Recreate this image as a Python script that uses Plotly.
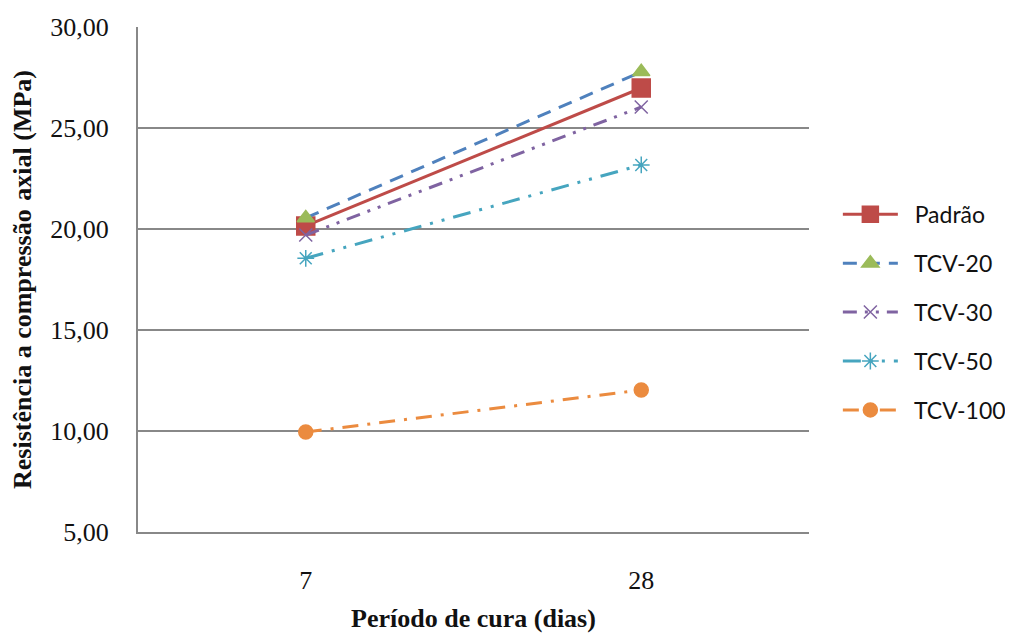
import plotly.graph_objects as go

categories = ["7", "28"]
padrao = [20.15, 26.98]
tcv20 = [20.55, 27.78]
tcv30 = [19.70, 26.04]
tcv50 = [18.55, 23.17]
tcv100 = [9.95, 12.03]

series = [
    ("Padrão", padrao, "#BE4B48", "#BE4B48", "square", 18, "solid", 3),
    ("TCV-20", tcv20, "#4F81BD", "#9BBB59", "triangle-up", 15, "14px,9px", 3),
    ("TCV-30", tcv30, "#7F63A1", "#7F63A1", "x-thin-open", 13, "14px,8px,3px,8px,3px,8px", 3),
    ("TCV-50", tcv50, "#46A5BF", "#46A5BF", "asterisk-open", 14, "18px,9px,3px,9px,3px,9px", 3),
    ("TCV-100", tcv100, "#EB8B3F", "#EB8B3F", "circle", 14, "16px,9px,3px,9px", 3),
]

fig = go.Figure()
for name, vals, lc, mc, sym, ms, dash, lw in series:
    fig.add_trace(go.Scatter(
        x=categories, y=vals, name="\u00a0\u00a0" + name, mode="lines+markers",
        legendgroup=name,
        line=dict(color=lc, width=lw, dash=dash),
        marker=dict(symbol=sym, size=ms, color=mc, line=dict(color=mc, width=1.5)),
    ))

serif = "Liberation Serif"
fig.update_layout(
    width=1005, height=625,
    margin=dict(l=130, r=204, t=19, b=101, autoexpand=False),
    paper_bgcolor="white", plot_bgcolor="white",
    separators=",.",
    showlegend=True,
    legend=dict(
        x=1.043, y=0.435, xanchor="left", yanchor="middle",
        font=dict(family="Lato", size=23, color="#111"),
        itemwidth=55, tracegroupgap=16,
    ),
    xaxis=dict(
        type="category", range=[-0.5, 1.5],
        showline=True, linecolor="#888", linewidth=2,
        showgrid=False, ticks="outside", ticklen=24, tickcolor="rgba(0,0,0,0)",
        tickfont=dict(family=serif, size=26, color="#111"),
        title=dict(text="<b>Período de cura (dias)</b>", standoff=16,
                   font=dict(family=serif, size=26, color="#111")),
    ),
    yaxis=dict(
        range=[5, 30], dtick=5, tickformat=".2f",
        showline=True, linecolor="#888", linewidth=2,
        showgrid=True, gridcolor="#888", gridwidth=1.5,
        ticks="outside", ticklen=22, tickcolor="rgba(0,0,0,0)",
        tickfont=dict(family=serif, size=26, color="#111"),
        title=dict(text="<b>Resistência a compressão\u200a axial (MPa)</b>", standoff=12,
                   font=dict(family=serif, size=26, color="#111")),
    ),
)

fig.write_html("out.html")
